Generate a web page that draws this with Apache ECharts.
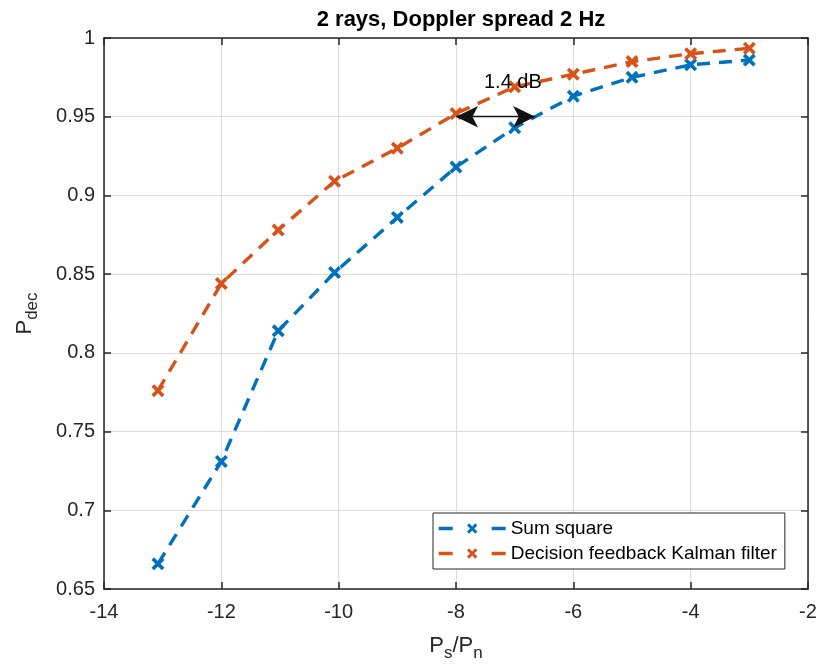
<!DOCTYPE html>
<html>
<head>
<meta charset="utf-8">
<script src="https://cdn.jsdelivr.net/npm/echarts@6/dist/echarts.min.js"></script>
<style>html,body{margin:0;padding:0;background:#fff}#c{width:824px;height:670px}</style>
</head>
<body>
<div id="c"></div>
<script>
const xValues = [-13.08, -12, -11.03, -10.07, -9, -8, -7, -6, -5, -4, -3];
const sumSquare = [0.666, 0.731, 0.814, 0.851, 0.886, 0.918, 0.943, 0.963, 0.975, 0.983, 0.986];
const dfKalman = [0.776, 0.844, 0.878, 0.909, 0.930, 0.952, 0.969, 0.977, 0.985, 0.990, 0.9935];
const seriesNames = ['Sum square', 'Decision feedback Kalman filter'];
const arrowFrom = [-8, 0.95];
const arrowTo = [-6.65, 0.95];
const annotation = {text: '1.4 dB', x: -7.03, y: 0.972};

const FONT = '"Liberation Sans", Arial, Helvetica, sans-serif';
const X_SYM = 'path://M2,0 L5,3 L8,0 L10,2 L7,5 L10,8 L8,10 L5,7 L2,10 L0,8 L3,5 L0,2 Z';
const pairs = (ys) => xValues.map((x, i) => [x, ys[i]]);

const chart = echarts.init(document.getElementById('c'), null, {renderer: 'canvas'});
const axisLine = {show: true, lineStyle: {color: '#262626', width: 1.5}};
const tick = {inside: true, length: 7, lineStyle: {color: '#262626', width: 1.5}};
const split = {show: true, lineStyle: {color: '#dcdcdc', width: 1}};
chart.setOption({
  animation: false,
  backgroundColor: '#fff',
  title: {text: '2 rays, Doppler spread 2 Hz', left: 456, top: 4, textAlign: 'center',
    textStyle: {fontFamily: FONT, fontWeight: 'bold', fontSize: 22, color: '#000'}},
  grid: {left: 104, right: 16, top: 38, bottom: 81},
  xAxis: [{
    type: 'value', min: -14, max: -2, interval: 2,
    axisLine: axisLine, axisTick: tick,
    axisLabel: {fontFamily: FONT, fontSize: 20, color: '#262626', margin: 13},
    splitLine: split,
    name: '{a|P}{s|s}{a|/P}{s|n}', nameLocation: 'middle', nameGap: 40,
    nameTextStyle: {rich: {a: {fontFamily: FONT, fontSize: 22, color: '#262626'},
      s: {fontFamily: FONT, fontSize: 17, color: '#262626', verticalAlign: 'bottom', padding: [16, 0, 0, 0]}}}
  }, {
    type: 'value', position: 'top', min: -14, max: -2, interval: 2,
    axisLine: axisLine, axisTick: tick,
    axisLabel: {show: false}, splitLine: {show: false}
  }],
  yAxis: [{
    type: 'value', min: 0.65, max: 1, interval: 0.05,
    axisLine: axisLine, axisTick: tick,
    axisLabel: {fontFamily: FONT, fontSize: 20, color: '#262626', margin: 9,
      formatter: v => String(parseFloat(v.toFixed(2)))},
    splitLine: split,
    name: '{a|P}{s|dec}', nameLocation: 'middle', nameGap: 63, nameRotate: 90,
    nameTextStyle: {rich: {a: {fontFamily: FONT, fontSize: 22, color: '#262626'},
      s: {fontFamily: FONT, fontSize: 17, color: '#262626', padding: [16, 0, 0, 0]}}}
  }, {
    type: 'value', position: 'right', min: 0.65, max: 1, interval: 0.05,
    axisLine: axisLine, axisTick: tick,
    axisLabel: {show: false}, splitLine: {show: false}
  }],
  legend: {
    orient: 'vertical', left: 433, top: 513,
    backgroundColor: '#fff', borderColor: '#262626', borderWidth: 1,
    padding: [6, 8, 6, 4], itemGap: 6, itemWidth: 67, itemHeight: 13,
    lineStyle: {type: [14, 39], width: 3.4},
    textStyle: {fontFamily: FONT, fontSize: 19, color: '#000'},
    data: seriesNames
  },
  series: [{
    name: seriesNames[0], type: 'line', data: pairs(sumSquare),
    symbol: X_SYM, symbolSize: 13, color: '#0072BD',
    lineStyle: {width: 3.4, type: [13, 9], color: '#0072BD'},
    itemStyle: {color: '#0072BD'}, z: 3
  }, {
    name: seriesNames[1], type: 'line', data: pairs(dfKalman),
    symbol: X_SYM, symbolSize: 13, color: '#D95319',
    lineStyle: {width: 3.4, type: [13, 9], color: '#D95319'},
    itemStyle: {color: '#D95319'}, z: 3,
    markLine: {
      silent: true, symbol: ['arrow', 'arrow'], symbolSize: [16, 22],
      lineStyle: {color: '#111', width: 1.3, type: 'solid'},
      itemStyle: {color: '#000'},
      label: {show: false},
      data: [[{coord: arrowFrom}, {coord: arrowTo}]]
    },
    markPoint: {
      silent: true, symbol: 'circle', symbolSize: 0,
      label: {show: true, formatter: annotation.text, fontFamily: FONT, fontSize: 20, color: '#000', position: 'inside'},
      data: [{coord: [annotation.x, annotation.y]}]
    }
  }]
});
</script>
</body>
</html>
